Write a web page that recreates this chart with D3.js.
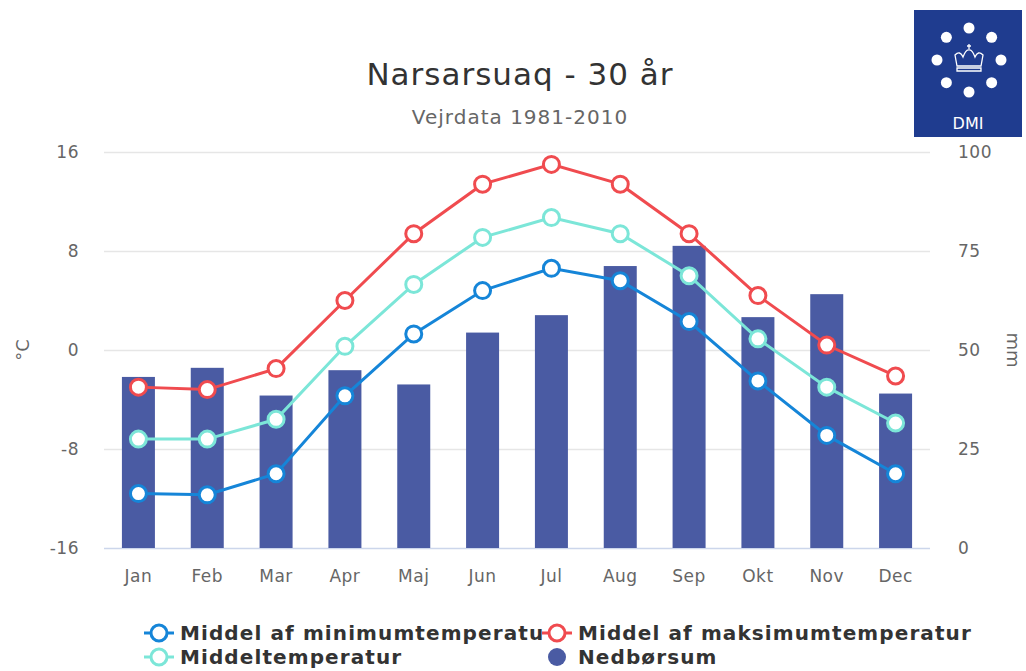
<!DOCTYPE html>
<html>
<head>
<meta charset="utf-8">
<script src="https://cdnjs.cloudflare.com/ajax/libs/d3/7.8.5/d3.min.js"></script>
<style>
	body { margin: 0; background: #fff; }
	svg { font-family: 'DejaVu Sans', Verdana, sans-serif; }
</style>
</head>
<body>
<div class="container"></div>
<script>
var months = ['Jan','Feb','Mar','Apr','Maj','Jun','Jul','Aug','Sep','Okt','Nov','Dec'];
var minTemp = [-11.6,-11.7,-10.0,-3.7,1.3,4.8,6.6,5.6,2.3,-2.5,-6.9,-10.0];
var maxTemp = [-3.0,-3.2,-1.5,4.0,9.4,13.4,15.0,13.4,9.4,4.4,0.4,-2.1];
var meanTemp = [-7.2,-7.2,-5.6,0.3,5.3,9.1,10.7,9.4,6.0,0.9,-3.0,-5.9];
var precip = [43.2,45.5,38.5,44.9,41.3,54.4,58.8,71.2,76.3,58.3,64.1,39.0];
var tempTicks = [-16,-8,0,8,16];
var mmTicks = [0,25,50,75,100];

var chart = function() {

	function init(){
		var width = 1026, height = 671;
		var left = 104, right = 930, top = 152, bottom = 548;

		var svg = d3.select('.container').append('svg')
			.attr('width', width)
			.attr('height', height);

		var x = d3.scaleBand().domain(months).range([left, right]);
		var yT = d3.scaleLinear().domain([-16, 16]).range([bottom, top]);
		var yP = d3.scaleLinear().domain([0, 100]).range([bottom, top]);

		// title
		svg.append('text')
			.attr('x', 520).attr('y', 85)
			.attr('text-anchor', 'middle')
			.style('font-size', '31px')
			.style('letter-spacing', '1px')
			.style('fill', '#333')
			.text('Narsarsuaq - 30 år');
		svg.append('text')
			.attr('x', 520).attr('y', 124)
			.attr('text-anchor', 'middle')
			.style('font-size', '20px')
			.style('letter-spacing', '1px')
			.style('fill', '#666')
			.text('Vejrdata 1981-2010');

		// grid
		svg.append('g').selectAll('line').data(tempTicks).enter().append('line')
			.attr('x1', left).attr('x2', right)
			.attr('y1', function(d){ return yT(d) + 0.5; })
			.attr('y2', function(d){ return yT(d) + 0.5; })
			.style('stroke', function(d){ return d === -16 ? '#ccd6eb' : '#e6e6e6'; })
			.style('stroke-width', 1.5);

		// left axis labels
		svg.append('g').selectAll('text').data(tempTicks).enter().append('text')
			.attr('x', 79)
			.attr('y', function(d){ return yT(d) + 6; })
			.attr('text-anchor', 'end')
			.style('font-size', '17px')
			.style('letter-spacing', '0.5px')
			.style('fill', '#666')
			.text(function(d){ return d; });

		svg.append('text')
			.attr('transform', 'translate(29,350) rotate(-90)')
			.attr('text-anchor', 'middle')
			.style('font-size', '18px')
			.style('fill', '#666')
			.text('°C');

		// right axis labels
		svg.append('g').selectAll('text').data(mmTicks).enter().append('text')
			.attr('x', 958)
			.attr('y', function(d){ return yP(d) + 6; })
			.style('font-size', '17px')
			.style('letter-spacing', '0.5px')
			.style('fill', '#666')
			.text(function(d){ return d; });

		svg.append('text')
			.attr('transform', 'translate(1007,350) rotate(90)')
			.attr('text-anchor', 'middle')
			.style('font-size', '18px')
			.style('fill', '#666')
			.text('mm');

		// month labels
		svg.append('g').selectAll('text').data(months).enter().append('text')
			.attr('x', function(d){ return x(d) + x.bandwidth()/2; })
			.attr('y', 582)
			.attr('text-anchor', 'middle')
			.style('font-size', '17px')
			.style('letter-spacing', '0.5px')
			.style('fill', '#666')
			.text(function(d){ return d; });

		// bars
		var bw = 33;
		svg.append('g').selectAll('rect').data(precip).enter().append('rect')
			.attr('x', function(d,i){ return x(months[i]) + x.bandwidth()/2 - bw/2; })
			.attr('y', function(d){ return yP(d); })
			.attr('width', bw)
			.attr('height', function(d){ return bottom - yP(d); })
			.style('fill', '#4a5ba3');

		var series = [
			{ name: 'Middel af minimumtemperatur', values: minTemp, color: '#1585d8' },
			{ name: 'Middel af maksimumtemperatur', values: maxTemp, color: '#f04b4f' },
			{ name: 'Middeltemperatur', values: meanTemp, color: '#7ce6d8' }
		];
		var drawOrder = [series[0], series[2], series[1]];

		var line = d3.line()
			.x(function(d,i){ return x(months[i]) + x.bandwidth()/2; })
			.y(function(d){ return yT(d); });

		drawOrder.forEach(function(s){
			var g = svg.append('g');
			g.append('path')
				.attr('d', line(s.values))
				.style('fill', 'none')
				.style('stroke', s.color)
				.style('stroke-width', 3);
			g.selectAll('circle').data(s.values).enter().append('circle')
				.attr('cx', function(d,i){ return x(months[i]) + x.bandwidth()/2; })
				.attr('cy', function(d){ return yT(d); })
				.attr('r', 8)
				.style('fill', '#fff')
				.style('stroke', s.color)
				.style('stroke-width', 3);
		});

		// legend
		var legendItems = [
			{ name: series[0].name, color: series[0].color, type: 'line', x: 144, y: 633 },
			{ name: series[1].name, color: series[1].color, type: 'line', x: 542, y: 633 },
			{ name: series[2].name, color: series[2].color, type: 'line', x: 144, y: 657 },
			{ name: 'Nedbørsum', color: '#4a5ba3', type: 'bar', x: 542, y: 657 }
		];

		svg.append('clipPath').attr('id', 'legclip')
			.append('rect').attr('x', 140).attr('y', 610).attr('width', 404).attr('height', 40);

		var leg = svg.append('g').selectAll('g').data(legendItems).enter().append('g');

		leg.append('text')
			.attr('x', function(d){ return d.x + 36; })
			.attr('y', function(d){ return d.y + 7; })
			.attr('clip-path', function(d,i){ return i === 0 ? 'url(#legclip)' : null; })
			.style('font-size', '20px')
			.style('font-weight', 'bold')
			.style('letter-spacing', '1.1px')
			.style('fill', '#333')
			.text(function(d){ return d.name; });

		leg.each(function(d){
			var g = d3.select(this);
			if (d.type === 'line') {
				g.append('line')
					.attr('x1', d.x).attr('x2', d.x + 30)
					.attr('y1', d.y).attr('y2', d.y)
					.style('stroke', d.color).style('stroke-width', 3);
				g.append('circle')
					.attr('cx', d.x + 15).attr('cy', d.y).attr('r', 8)
					.style('fill', '#fff').style('stroke', d.color).style('stroke-width', 3);
			} else {
				g.append('circle')
					.attr('cx', d.x + 15).attr('cy', d.y).attr('r', 9)
					.style('fill', d.color);
			}
		});

		// DMI logo
		var logo = svg.append('g');
		logo.append('rect')
			.attr('x', 914).attr('y', 10).attr('width', 108).attr('height', 127)
			.style('fill', '#1f3c8f');
		var dots = d3.range(8);
		logo.selectAll('circle').data(dots).enter().append('circle')
			.attr('cx', function(d){ return 969 + 32 * Math.sin(d * Math.PI / 4); })
			.attr('cy', function(d){ return 60 - 32 * Math.cos(d * Math.PI / 4); })
			.attr('r', 5.5)
			.style('fill', '#fff');
		// crown
		logo.append('path')
			.attr('d', 'M957,66 L955,55 Q960,50 963,57 Q966,49 969,50 Q972,49 975,57 Q978,50 983,55 L981,66 Z M957,68 L981,68 L981,71 L957,71 Z M969,44 L969,49 M967,46 L971,46')
			.style('fill', 'none')
			.style('stroke', '#fff')
			.style('stroke-width', 1.3);
		logo.append('text')
			.attr('x', 968).attr('y', 129)
			.attr('text-anchor', 'middle')
			.style('font-size', '16px')
			.style('fill', '#fff')
			.text('DMI');
	}
	return Object.freeze({init:init});
}

var c = chart();
c.init();
</script>
</body>
</html>
